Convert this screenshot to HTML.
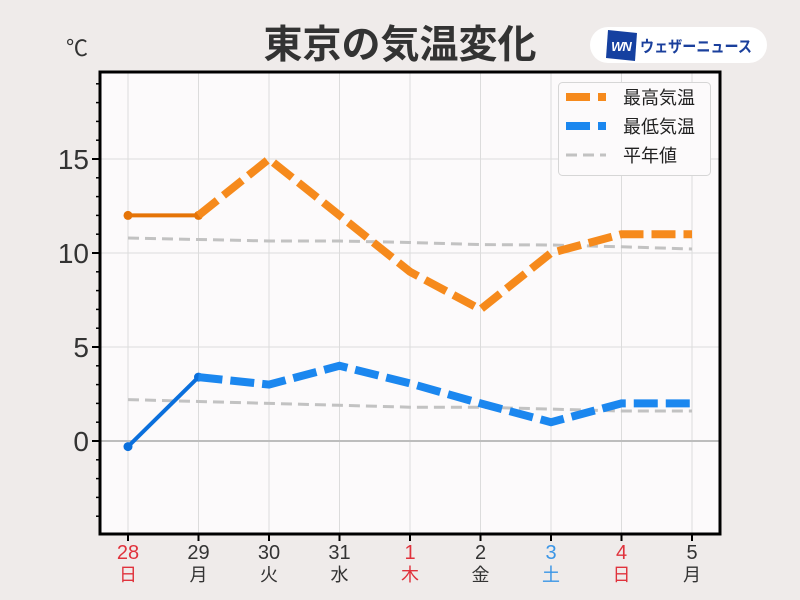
<!DOCTYPE html>
<html><head><meta charset="utf-8">
<style>
html,body{margin:0;padding:0;background:#efebea;}
svg{display:block;}
text{font-family:"Liberation Sans","Noto Sans CJK JP",sans-serif;}
</style></head>
<body>
<svg width="800" height="600" viewBox="0 0 800 600" xmlns="http://www.w3.org/2000/svg">
<rect x="0" y="0" width="800" height="600" fill="#efebea"/>
<!-- title -->
<text x="400" y="58" text-anchor="middle" font-size="39" font-weight="bold" fill="#333" style='font-family:"Liberation Sans","Noto Sans CJK JP",sans-serif'>東京の気温変化</text>
<text x="77" y="56" text-anchor="middle" font-size="22" fill="#333">℃</text>
<!-- logo -->
<rect x="590" y="27" width="177" height="36" rx="18" fill="#ffffff"/>
<polygon points="608,30 637,33 635,61 606,58" fill="#1540a0"/>
<text x="621" y="51" text-anchor="middle" font-size="13" font-weight="bold" font-style="italic" fill="#fff" letter-spacing="-1">WN</text>
<text x="640" y="52" font-size="16" font-weight="bold" fill="#1a3f9c" textLength="112" lengthAdjust="spacingAndGlyphs">ウェザーニュース</text>
<!-- plot area -->
<rect x="100" y="72" width="620" height="462" fill="#fcfafb"/>
<g stroke="#dcdcdc" stroke-width="1">
<line x1="128" y1="72" x2="128" y2="534"/>
<line x1="198.5" y1="72" x2="198.5" y2="534"/>
<line x1="269" y1="72" x2="269" y2="534"/>
<line x1="339.5" y1="72" x2="339.5" y2="534"/>
<line x1="410" y1="72" x2="410" y2="534"/>
<line x1="480.5" y1="72" x2="480.5" y2="534"/>
<line x1="551" y1="72" x2="551" y2="534"/>
<line x1="621.5" y1="72" x2="621.5" y2="534"/>
<line x1="692" y1="72" x2="692" y2="534"/>
<line x1="100" y1="159" x2="720" y2="159"/>
<line x1="100" y1="253" x2="720" y2="253"/>
<line x1="100" y1="347" x2="720" y2="347"/>
</g>
<line x1="100" y1="441" x2="720" y2="441" stroke="#bdbdbd" stroke-width="2"/>
<!-- normals -->
<g fill="none" stroke="#c2c2c2" stroke-width="3" stroke-dasharray="11 6">
<polyline points="128,238 198.5,239.5 269,241 339.5,241 410,242.5 480.5,244.6 551,245 621.5,246.8 692,249"/>
<polyline points="128,399.6 198.5,401.5 269,403.4 339.5,405.3 410,407.2 480.5,407.2 551,409.1 621.5,411 692,411"/>
</g>
<!-- max -->
<polyline points="128,215.4 198.5,215.4" fill="none" stroke="#e57407" stroke-width="4"/>
<circle cx="128" cy="215.4" r="4.5" fill="#e57407"/>
<circle cx="198.5" cy="215.4" r="4.5" fill="#e57407"/>
<polyline points="198.5,215.4 269,159 339.5,215.4 410,271.8 480.5,309.4 551,253 621.5,234.2 692,234.2" fill="none" stroke="#f68a1c" stroke-width="8" stroke-dasharray="24 8" stroke-linejoin="miter"/>
<!-- min -->
<polyline points="128,446.6 198.5,377.1" fill="none" stroke="#0a6fdc" stroke-width="4"/>
<circle cx="128" cy="446.6" r="4.5" fill="#0a6fdc"/>
<circle cx="198.5" cy="377.1" r="4.5" fill="#0a6fdc"/>
<polyline points="198.5,377.1 269,384.6 339.5,365.8 410,383.4 480.5,403.4 551,422.2 621.5,403.4 692,403.4" fill="none" stroke="#1b87ef" stroke-width="8" stroke-dasharray="24 8"/>
<!-- frame -->
<rect x="100" y="72" width="620" height="462" fill="none" stroke="#000" stroke-width="3"/>
<!-- y ticks -->
<g stroke="#000" stroke-width="2">
<line x1="92" y1="159" x2="100" y2="159"/>
<line x1="92" y1="253" x2="100" y2="253"/>
<line x1="92" y1="347" x2="100" y2="347"/>
<line x1="92" y1="441" x2="100" y2="441"/>
</g>
<g stroke="#000" stroke-width="1.5">
<line x1="96" y1="516.2" x2="100" y2="516.2"/>
<line x1="96" y1="497.4" x2="100" y2="497.4"/>
<line x1="96" y1="478.6" x2="100" y2="478.6"/>
<line x1="96" y1="459.8" x2="100" y2="459.8"/>
<line x1="96" y1="422.2" x2="100" y2="422.2"/>
<line x1="96" y1="403.4" x2="100" y2="403.4"/>
<line x1="96" y1="384.6" x2="100" y2="384.6"/>
<line x1="96" y1="365.8" x2="100" y2="365.8"/>
<line x1="96" y1="328.2" x2="100" y2="328.2"/>
<line x1="96" y1="309.4" x2="100" y2="309.4"/>
<line x1="96" y1="290.6" x2="100" y2="290.6"/>
<line x1="96" y1="271.8" x2="100" y2="271.8"/>
<line x1="96" y1="234.2" x2="100" y2="234.2"/>
<line x1="96" y1="215.4" x2="100" y2="215.4"/>
<line x1="96" y1="196.6" x2="100" y2="196.6"/>
<line x1="96" y1="177.8" x2="100" y2="177.8"/>
<line x1="96" y1="140.2" x2="100" y2="140.2"/>
<line x1="96" y1="121.4" x2="100" y2="121.4"/>
<line x1="96" y1="102.6" x2="100" y2="102.6"/>
<line x1="96" y1="83.8" x2="100" y2="83.8"/>
</g>
<g font-size="28" fill="#333" text-anchor="end">
<text x="89" y="169">15</text>
<text x="89" y="263">10</text>
<text x="89" y="357">5</text>
<text x="89" y="451">0</text>
</g>
<!-- x ticks -->
<g stroke="#000" stroke-width="2">
<line x1="128" y1="534" x2="128" y2="541"/>
<line x1="198.5" y1="534" x2="198.5" y2="541"/>
<line x1="269" y1="534" x2="269" y2="541"/>
<line x1="339.5" y1="534" x2="339.5" y2="541"/>
<line x1="410" y1="534" x2="410" y2="541"/>
<line x1="480.5" y1="534" x2="480.5" y2="541"/>
<line x1="551" y1="534" x2="551" y2="541"/>
<line x1="621.5" y1="534" x2="621.5" y2="541"/>
<line x1="692" y1="534" x2="692" y2="541"/>
</g>
<g font-size="20" text-anchor="middle">
<text x="128" y="559" fill="#e0323c">28</text>
<text x="198.5" y="559" fill="#333">29</text>
<text x="269" y="559" fill="#333">30</text>
<text x="339.5" y="559" fill="#333">31</text>
<text x="410" y="559" fill="#e0323c">1</text>
<text x="480.5" y="559" fill="#333">2</text>
<text x="551" y="559" fill="#3a95e6">3</text>
<text x="621.5" y="559" fill="#e0323c">4</text>
<text x="692" y="559" fill="#333">5</text>
</g>
<g font-size="18" text-anchor="middle">
<text x="128" y="581" fill="#e0323c">日</text>
<text x="198.5" y="581" fill="#333">月</text>
<text x="269" y="581" fill="#333">火</text>
<text x="339.5" y="581" fill="#333">水</text>
<text x="410" y="581" fill="#e0323c">木</text>
<text x="480.5" y="581" fill="#333">金</text>
<text x="551" y="581" fill="#3a95e6">土</text>
<text x="621.5" y="581" fill="#e0323c">日</text>
<text x="692" y="581" fill="#333">月</text>
</g>
<!-- legend -->
<rect x="558.5" y="82.5" width="152" height="93" rx="4" fill="#fcfafb" stroke="#d6d6d6" stroke-width="1"/>
<line x1="566" y1="97" x2="606" y2="97" stroke="#f68a1c" stroke-width="8" stroke-dasharray="24 8"/>
<line x1="566" y1="126" x2="606" y2="126" stroke="#1b87ef" stroke-width="8" stroke-dasharray="24 8"/>
<line x1="566" y1="155" x2="606" y2="155" stroke="#c2c2c2" stroke-width="3" stroke-dasharray="11 6"/>
<g font-size="18" fill="#222">
<text x="623" y="104">最高気温</text>
<text x="623" y="133">最低気温</text>
<text x="623" y="162">平年値</text>
</g>
</svg>
</body></html>
